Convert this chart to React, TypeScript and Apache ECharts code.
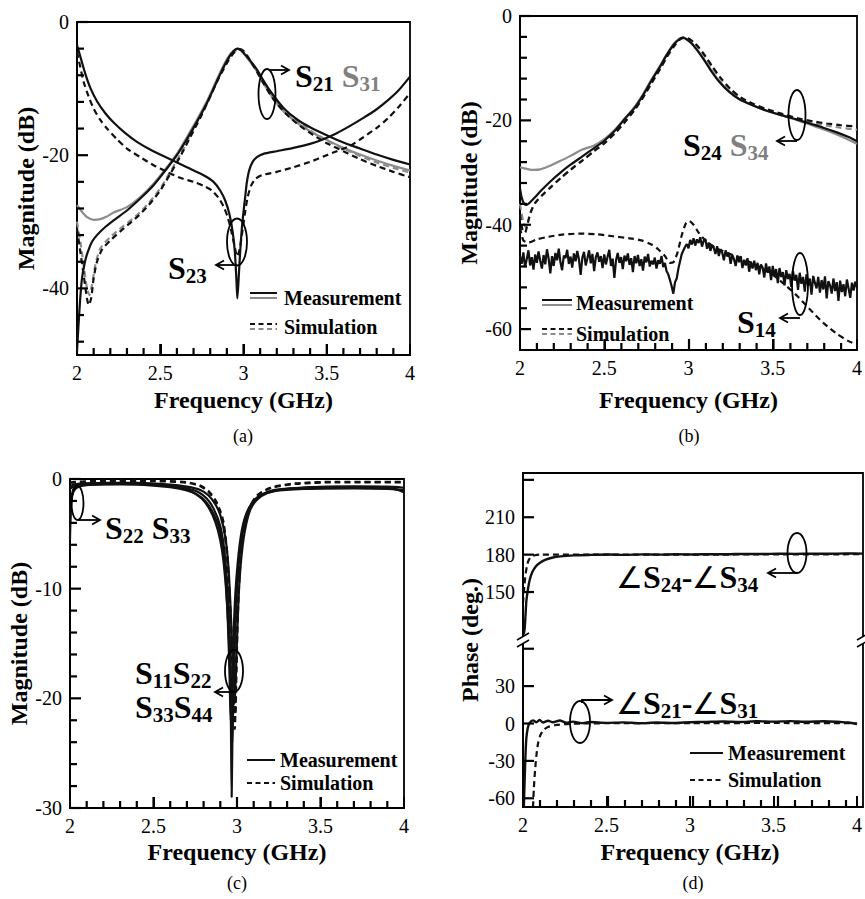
import React, { useEffect, useRef } from 'react';
import * as echarts from 'echarts';

const FONT = "'Liberation Serif', 'Times New Roman', serif";
const BLACK = '#111111';
const GRAY = '#8c8c8c';

// ---------- axis ranges & tick values ----------
const freqRange = [2, 4];
const freqMajor = [2.5, 3, 3.5];
const freqMinor = [2.1, 2.2, 2.3, 2.4, 2.6, 2.7, 2.8, 2.9, 3.1, 3.2, 3.3, 3.4, 3.6, 3.7, 3.8, 3.9];
const aRange = [-50, 0];
const aYLabels = [0, -20, -40];
const aYMinor = [-4, -8, -12, -16, -24, -28, -32, -36, -44, -48];
const bRange = [-64, 0];
const bYLabels = [0, -20, -40, -60];
const bYMinor = [-4, -8, -12, -16, -24, -28, -32, -36, -44, -48, -52, -56];
const cRange = [-30, 0];
const cYLabels = [0, -10, -20, -30];
const cYMinor = [-2, -4, -6, -8, -12, -14, -16, -18, -22, -24, -26, -28];
const dUpRange = [111.5, 245.5];
const dUpLabels = [150, 180, 210];
const dUpTicks = [150, 180, 210, 240];
const dLowRange = [-67, 67];
const dLowLabels = [-60, -30, 0, 30];
const dLowTicks = [-60, -30, 0, 30, 60];

// ---------- (a) ----------
const aS21Meas: [number, number][] = [[2.0,-49.5],[2.008,-46],[2.018,-42],[2.03,-38.5],[2.048,-36],[2.065,-34.5],[2.09,-33],[2.12,-32],[2.16,-31],[2.22,-29.8],[2.3,-28.3],[2.38,-26.5],[2.46,-24.5],[2.54,-22],[2.6,-20],[2.66,-17.6],[2.72,-15],[2.78,-12.2],[2.83,-9.5],[2.87,-7.3],[2.91,-5.4],[2.94,-4.4],[2.965,-4.0],[2.985,-4.2],[3.01,-4.9],[3.04,-5.8],[3.08,-7.1],[3.12,-8.8],[3.17,-10.7],[3.24,-12.9],[3.32,-14.6],[3.4,-15.8],[3.5,-17.0],[3.6,-18.1],[3.7,-19.0],[3.8,-19.9],[3.9,-20.7],[4.0,-21.4]];
const aS31Meas: [number, number][] = [[2.0,-27.5],[2.03,-28.5],[2.06,-29.3],[2.1,-29.7],[2.14,-29.6],[2.18,-29.2],[2.22,-28.6],[2.3,-27.8],[2.38,-26.3],[2.46,-24.3],[2.54,-21.8],[2.6,-19.8],[2.66,-17.3],[2.72,-14.7],[2.78,-11.9],[2.83,-9.2],[2.87,-7.0],[2.91,-5.2],[2.94,-4.3],[2.965,-4.0],[2.985,-4.3],[3.01,-5.0],[3.04,-6.0],[3.08,-7.4],[3.12,-9.2],[3.17,-11.2],[3.24,-13.4],[3.32,-15.1],[3.4,-16.4],[3.5,-17.7],[3.6,-18.9],[3.7,-19.9],[3.8,-20.8],[3.9,-21.6],[4.0,-22.3]];
const aS23Meas: [number, number][] = [[2.0,-3.5],[2.02,-5.2],[2.05,-7.8],[2.08,-9.9],[2.12,-11.9],[2.17,-13.7],[2.22,-15.1],[2.29,-16.7],[2.36,-18.0],[2.45,-19.3],[2.56,-20.6],[2.66,-21.8],[2.76,-23.0],[2.82,-24.0],[2.86,-25.3],[2.89,-26.8],[2.915,-28.8],[2.935,-31.5],[2.948,-34.5],[2.958,-39],[2.963,-41.5],[2.972,-38],[2.98,-34.5],[2.99,-31],[3.0,-28.5],[3.01,-26.3],[3.02,-24.1],[3.035,-22.2],[3.055,-21.0],[3.08,-20.3],[3.12,-19.8],[3.2,-19.4],[3.3,-18.9],[3.4,-18.3],[3.48,-17.6],[3.56,-16.7],[3.64,-15.6],[3.72,-14.4],[3.8,-13.1],[3.87,-11.7],[3.93,-10.3],[4.0,-8.2]];
const aS21Sim: [number, number][] = [[2.0,-31],[2.02,-34.5],[2.04,-38],[2.06,-41.5],[2.07,-42.5],[2.085,-41.5],[2.1,-38.5],[2.12,-36],[2.15,-34.2],[2.2,-32.8],[2.28,-31],[2.36,-29.3],[2.43,-27.5],[2.5,-25.3],[2.56,-22.8],[2.62,-20.2],[2.68,-17.3],[2.74,-14.4],[2.8,-11.2],[2.85,-8.5],[2.9,-6.2],[2.94,-4.7],[2.975,-4.1],[3.0,-4.4],[3.03,-5.4],[3.07,-7.0],[3.12,-9.2],[3.18,-11.6],[3.26,-13.9],[3.34,-15.6],[3.42,-17.0],[3.5,-18.2],[3.6,-19.4],[3.7,-20.6],[3.8,-21.6],[3.9,-22.5],[4.0,-23.3]];
const aS31Sim: [number, number][] = [[2.0,-30],[2.02,-33],[2.04,-36.5],[2.06,-40],[2.075,-41],[2.09,-39.5],[2.11,-36.5],[2.14,-34],[2.2,-32.3],[2.28,-30.6],[2.36,-29],[2.43,-27.2],[2.5,-25],[2.56,-22.5],[2.62,-19.9],[2.68,-17],[2.74,-14.1],[2.8,-11],[2.85,-8.3],[2.9,-6.0],[2.94,-4.6],[2.975,-4.0],[3.0,-4.3],[3.03,-5.3],[3.07,-6.9],[3.12,-9.0],[3.18,-11.3],[3.26,-13.5],[3.34,-15.2],[3.42,-16.6],[3.5,-17.8],[3.6,-19.0],[3.7,-20.1],[3.8,-21.1],[3.9,-21.9],[4.0,-22.6]];
const aS23Sim: [number, number][] = [[2.0,-4.5],[2.02,-6.8],[2.04,-9.0],[2.07,-11.2],[2.1,-13],[2.14,-14.7],[2.18,-16],[2.24,-17.6],[2.3,-19],[2.38,-20.3],[2.46,-21.5],[2.54,-22.5],[2.62,-23.4],[2.7,-24.0],[2.76,-24.6],[2.81,-25.3],[2.85,-26.4],[2.88,-27.7],[2.905,-29.3],[2.925,-31.2],[2.945,-33.5],[2.962,-35.2],[2.978,-34],[2.99,-32],[3.0,-30.3],[3.01,-28.5],[3.025,-26.3],[3.045,-24.6],[3.07,-23.6],[3.11,-23.0],[3.2,-22.5],[3.3,-21.8],[3.4,-21.0],[3.48,-20.2],[3.56,-19.4],[3.64,-18.6],[3.72,-17.3],[3.8,-15.9],[3.87,-14.4],[3.93,-12.8],[4.0,-10.7]];

// ---------- (b) ----------
const bS24Meas: [number, number][] = [[2.0,-33],[2.01,-34.8],[2.025,-36],[2.04,-36.2],[2.06,-35.7],[2.09,-34.7],[2.13,-33.3],[2.18,-31.7],[2.24,-30],[2.3,-28.5],[2.37,-26.9],[2.44,-25.3],[2.5,-23.9],[2.56,-22.1],[2.62,-19.8],[2.68,-17.6],[2.73,-15.2],[2.78,-12.4],[2.83,-9.8],[2.87,-7.5],[2.91,-5.6],[2.94,-4.6],[2.965,-4.2],[2.99,-4.5],[3.02,-5.3],[3.05,-6.5],[3.09,-8.3],[3.13,-10.3],[3.18,-12.5],[3.24,-14.5],[3.3,-15.9],[3.38,-17.1],[3.46,-18.1],[3.55,-19.0],[3.64,-19.8],[3.72,-20.6],[3.8,-21.4],[3.88,-22.3],[3.95,-23.2],[4.0,-24.0]];
const bS34Meas: [number, number][] = [[2.0,-29],[2.04,-29.3],[2.08,-29.5],[2.12,-29.4],[2.17,-28.8],[2.23,-27.9],[2.3,-26.8],[2.37,-25.6],[2.44,-24.8],[2.5,-23.6],[2.56,-21.9],[2.62,-19.7],[2.68,-17.4],[2.73,-15.0],[2.78,-12.2],[2.83,-9.6],[2.87,-7.4],[2.91,-5.4],[2.94,-4.5],[2.965,-4.1],[2.99,-4.4],[3.02,-5.2],[3.05,-6.4],[3.09,-8.2],[3.13,-10.2],[3.18,-12.4],[3.24,-14.4],[3.3,-15.9],[3.38,-17.1],[3.46,-18.1],[3.55,-19.0],[3.64,-19.9],[3.72,-20.8],[3.8,-21.7],[3.88,-22.7],[3.95,-23.7],[4.0,-24.5]];
const bS24Sim: [number, number][] = [[2.0,-38],[2.015,-41],[2.03,-41.5],[2.045,-39.8],[2.065,-37.5],[2.09,-35.8],[2.13,-34.4],[2.18,-32.9],[2.24,-31.1],[2.3,-29.5],[2.37,-27.7],[2.44,-25.9],[2.5,-24.4],[2.56,-22.6],[2.62,-20.4],[2.68,-18.0],[2.73,-15.6],[2.78,-12.9],[2.83,-10.2],[2.87,-7.9],[2.91,-5.9],[2.945,-4.6],[2.975,-4.1],[3.0,-4.3],[3.03,-5.0],[3.06,-6.0],[3.1,-7.7],[3.14,-9.6],[3.19,-11.8],[3.25,-14.0],[3.31,-15.6],[3.39,-16.9],[3.47,-17.9],[3.56,-18.8],[3.65,-19.6],[3.74,-20.2],[3.82,-20.6],[3.9,-20.9],[4.0,-21.2]];
const bS34Sim: [number, number][] = [[2.0,-36],[2.02,-39.5],[2.035,-40.5],[2.05,-39],[2.07,-37],[2.1,-35.4],[2.14,-34.0],[2.19,-32.5],[2.25,-30.8],[2.31,-29.1],[2.38,-27.4],[2.45,-25.6],[2.51,-24.1],[2.57,-22.2],[2.63,-20.0],[2.69,-17.5],[2.74,-15.1],[2.79,-12.4],[2.84,-9.7],[2.88,-7.5],[2.92,-5.6],[2.95,-4.5],[2.98,-4.1],[3.005,-4.4],[3.035,-5.2],[3.065,-6.3],[3.1,-7.9],[3.14,-9.9],[3.19,-12.1],[3.25,-14.2],[3.31,-15.8],[3.39,-17.1],[3.47,-18.1],[3.56,-19.0],[3.65,-19.8],[3.74,-20.5],[3.82,-21.0],[3.9,-21.4],[4.0,-21.8]];
const bS14Sim: [number, number][] = [[2.0,-40.5],[2.02,-43],[2.05,-43.4],[2.1,-42.8],[2.17,-42.3],[2.25,-41.9],[2.35,-41.7],[2.45,-41.8],[2.55,-42.2],[2.65,-42.6],[2.72,-43.0],[2.78,-43.8],[2.82,-44.7],[2.86,-46],[2.89,-47.3],[2.91,-47.2],[2.935,-45.3],[2.96,-42],[2.985,-39.7],[3.005,-39.3],[3.03,-40],[3.06,-41.5],[3.1,-43],[3.15,-44.2],[3.2,-45],[3.3,-46.3],[3.4,-47.7],[3.5,-49.6],[3.58,-51.7],[3.65,-53.8],[3.72,-56.2],[3.8,-58.8],[3.88,-60.9],[3.95,-62.3],[4.0,-63]];
// measured S14: sampled every 0.01 GHz from 2.00 to 4.00
const bS14MeasStart = 2.0;
const bS14MeasStep = 0.01;
const bS14MeasVal: number[] = [
  -46.0,-47.5,-45.3,-48.1,-46.6,-44.9,-47.8,-46.2,-48.6,-45.7,
  -47.3,-45.1,-46.9,-48.4,-45.8,-47.6,-44.7,-46.5,-49.3,-46.0,
  -47.9,-45.4,-46.8,-44.6,-47.2,-48.7,-45.9,-46.4,-44.8,-47.5,
  -46.1,-48.2,-45.5,-47.0,-45.0,-46.7,-49.6,-46.3,-45.2,-47.8,
  -46.4,-44.9,-47.4,-45.6,-48.9,-46.2,-45.3,-47.1,-46.0,-48.3,
  -45.7,-47.6,-46.1,-44.8,-47.9,-46.5,-50.2,-46.8,-45.4,-47.3,
  -46.2,-48.5,-45.9,-47.0,-45.5,-47.7,-46.4,-49.1,-46.0,-47.4,
  -45.8,-47.9,-46.6,-48.8,-46.1,-47.2,-45.6,-48.0,-46.9,-47.6,
  -46.3,-48.4,-46.8,-47.5,-46.0,-48.1,-47.3,-48.9,-49.5,-50.6,
  -51.8,-53.2,-51.0,-50.3,-48.4,-47.0,-45.6,-44.9,-44.2,-43.7,
  -44.5,-42.9,-43.8,-42.6,-44.0,-42.8,-43.5,-42.4,-44.2,-43.1,
  -42.7,-44.6,-43.4,-45.0,-43.9,-44.4,-45.6,-44.1,-46.0,-44.7,
  -45.3,-46.8,-44.9,-46.1,-45.4,-47.5,-45.8,-46.6,-47.9,-45.9,
  -47.2,-46.0,-48.3,-46.7,-47.8,-46.4,-49.0,-47.1,-48.4,-46.9,
  -48.7,-47.3,-49.5,-47.6,-48.2,-50.1,-47.4,-49.2,-48.0,-50.6,
  -47.9,-49.8,-48.5,-51.2,-48.3,-50.0,-49.1,-51.6,-48.7,-50.4,
  -49.4,-51.9,-48.9,-50.7,-49.6,-52.5,-49.2,-51.3,-50.0,-52.8,
  -49.5,-51.7,-50.3,-53.4,-49.8,-51.1,-52.2,-50.0,-53.0,-50.6,
  -52.4,-49.9,-54.1,-50.8,-51.6,-53.2,-50.3,-52.7,-51.0,-54.6,
  -50.7,-52.9,-51.4,-53.7,-50.5,-52.2,-54.0,-51.1,-52.6,-50.9,
  -52.0,
];

// ---------- (c) ----------
const cS11Meas: [number, number][] = [[2.0,-0.7],[2.02,-0.5],[2.1,-0.4],[2.3,-0.4],[2.5,-0.5],[2.6,-0.65],[2.68,-0.9],[2.74,-1.25],[2.79,-1.8],[2.83,-2.6],[2.87,-3.9],[2.9,-5.6],[2.92,-7.6],[2.94,-11.2],[2.955,-16],[2.963,-21.5],[2.968,-29],[2.973,-23],[2.98,-17],[2.99,-12.5],[3.0,-9.5],[3.015,-6.8],[3.035,-4.6],[3.06,-3.1],[3.1,-2.0],[3.15,-1.4],[3.22,-1.0],[3.35,-0.85],[3.6,-0.75],[3.85,-0.8],[3.95,-0.95],[4.0,-1.2]];
const cS22Meas: [number, number][] = [[2.0,-5.5],[2.004,-3.2],[2.01,-1.9],[2.02,-1.2],[2.04,-0.8],[2.1,-0.55],[2.3,-0.5],[2.5,-0.6],[2.6,-0.75],[2.7,-1.05],[2.76,-1.4],[2.81,-2.0],[2.85,-2.9],[2.89,-4.3],[2.915,-6.3],[2.93,-8.6],[2.945,-13],[2.955,-17.5],[2.962,-22],[2.97,-19],[2.98,-14],[2.99,-10.5],[3.005,-7.5],[3.025,-5],[3.05,-3.4],[3.09,-2.2],[3.14,-1.5],[3.22,-1.1],[3.4,-0.9],[3.7,-0.85],[3.9,-0.9],[4.0,-1.0]];
const cS33Meas: [number, number][] = [[2.0,-4.0],[2.005,-2.4],[2.012,-1.4],[2.025,-0.8],[2.06,-0.5],[2.2,-0.35],[2.4,-0.35],[2.6,-0.5],[2.7,-0.7],[2.78,-1.0],[2.83,-1.5],[2.87,-2.3],[2.9,-3.3],[2.93,-5.3],[2.95,-8.3],[2.965,-13],[2.978,-18.5],[2.986,-20.5],[2.995,-17],[3.005,-12.5],[3.015,-9.3],[3.03,-6.6],[3.05,-4.5],[3.08,-2.8],[3.12,-1.9],[3.18,-1.3],[3.3,-0.9],[3.6,-0.7],[3.9,-0.7],[4.0,-0.8]];
const cS44Meas: [number, number][] = [[2.0,-0.9],[2.03,-0.6],[2.2,-0.45],[2.4,-0.45],[2.6,-0.6],[2.7,-0.85],[2.77,-1.2],[2.82,-1.8],[2.86,-2.7],[2.9,-4.3],[2.925,-6.6],[2.945,-10.5],[2.958,-15],[2.966,-20],[2.972,-24],[2.978,-20],[2.988,-14.5],[2.998,-10.5],[3.01,-7.8],[3.03,-5.2],[3.055,-3.5],[3.09,-2.3],[3.14,-1.5],[3.22,-1.05],[3.4,-0.8],[3.7,-0.7],[3.9,-0.8],[4.0,-1.1]];
const cS11Sim: [number, number][] = [[2.0,-0.3],[2.2,-0.15],[2.5,-0.15],[2.7,-0.3],[2.78,-0.6],[2.83,-1.1],[2.87,-1.9],[2.9,-2.9],[2.92,-4.0],[2.94,-6.5],[2.955,-10.3],[2.967,-14],[2.978,-18.5],[2.987,-22.8],[2.994,-18],[3.0,-13],[3.01,-9.5],[3.025,-6.3],[3.045,-4.2],[3.075,-2.6],[3.12,-1.5],[3.2,-0.8],[3.35,-0.4],[3.6,-0.25],[4.0,-0.25]];
const cS22Sim: [number, number][] = [[2.0,-0.35],[2.2,-0.2],[2.5,-0.2],[2.7,-0.35],[2.78,-0.65],[2.83,-1.2],[2.87,-2.0],[2.9,-3.1],[2.92,-4.3],[2.94,-7.0],[2.955,-11],[2.968,-15],[2.98,-19.5],[2.99,-21.5],[2.997,-17.5],[3.005,-12.5],[3.015,-9],[3.03,-6.0],[3.05,-4.0],[3.08,-2.5],[3.13,-1.4],[3.21,-0.8],[3.35,-0.45],[3.6,-0.3],[4.0,-0.3]];

// ---------- (d) ----------
const dUpMeas: [number, number][] = [[2.005,116],[2.01,121],[2.015,132],[2.02,143],[2.03,153],[2.04,160],[2.055,166],[2.075,170.5],[2.1,173.5],[2.13,175.8],[2.17,177.5],[2.22,178.6],[2.3,179.4],[2.4,179.8],[2.5,180.1],[2.6,179.8],[2.7,180.2],[2.8,180.0],[2.9,180.3],[3.0,180.1],[3.1,180.4],[3.2,180.3],[3.3,180.6],[3.4,180.5],[3.5,180.7],[3.6,180.6],[3.7,180.8],[3.8,180.7],[3.9,180.9],[4.0,180.8]];
const dUpSim: [number, number][] = [[2.0,141],[2.008,155],[2.016,165],[2.025,172],[2.035,176],[2.05,178.5],[2.07,179.5],[2.1,180],[2.5,180],[3.0,180],[3.5,180.2],[4.0,180.3]];
const dLowMeas: [number, number][] = [[2.005,-67],[2.01,-45],[2.015,-25],[2.02,-12],[2.028,-4],[2.04,0.5],[2.06,2.5],[2.08,1],[2.1,2.8],[2.12,0.8],[2.15,2.2],[2.18,1.0],[2.22,2.4],[2.26,0.6],[2.3,1.5],[2.35,0.3],[2.4,1.2],[2.5,0.5],[2.6,0.9],[2.7,0.2],[2.8,0.8],[2.9,0.4],[3.0,1.0],[3.1,1.3],[3.2,1.6],[3.3,1.2],[3.4,1.8],[3.5,1.5],[3.6,1.9],[3.7,1.4],[3.8,1.8],[3.9,1.2],[3.95,0.8],[4.0,-0.5]];
const dLowSim: [number, number][] = [[2.06,-67],[2.065,-52],[2.072,-38],[2.08,-26],[2.09,-16],[2.105,-9],[2.125,-5],[2.15,-2.8],[2.19,-1.4],[2.25,-0.5],[2.35,0],[2.5,0.2],[3.0,0.3],[3.5,0.4],[4.0,0.2]];

// ---------- layout ----------
type Box = { left: number; top: number; width: number; height: number };
const boxA: Box = { left: 77, top: 22, width: 333, height: 333 };
const boxB: Box = { left: 520, top: 16, width: 338, height: 334 };
const boxC: Box = { left: 70, top: 479, width: 334, height: 329 };
const boxDUp: Box = { left: 523, top: 473, width: 340, height: 167 };
const boxDLow: Box = { left: 523, top: 640, width: 340, height: 167 };

const AXLINE = { show: true, onZero: false, lineStyle: { color: '#000', width: 1.8 } };

function line(data: any[], xi: number, yi: number, color: string, dashed: boolean, smooth: number | boolean = 0.25, width = 2.2, z = 3) {
  return {
    type: 'line', data, xAxisIndex: xi, yAxisIndex: yi, symbol: 'none', showSymbol: false,
    smooth, silent: true, z,
    lineStyle: { color, width, type: dashed ? [6, 4] : 'solid' },
  };
}

function xAx(gridIndex: number, nameGap: number) {
  return {
    type: 'value', gridIndex, min: freqRange[0], max: freqRange[1], interval: 0.5,
    name: 'Frequency (GHz)', nameLocation: 'middle', nameGap,
    nameTextStyle: { fontFamily: FONT, fontSize: 24, fontWeight: 'bold', color: '#000' },
    axisLine: AXLINE,
    axisTick: { show: true, inside: true, length: 11, lineStyle: { color: '#000', width: 2 } },
    axisLabel: { fontFamily: FONT, fontSize: 20, color: '#000', margin: 8, showMinLabel: true, showMaxLabel: true },
    splitLine: { show: false },
  };
}

function yAx(gridIndex: number, range: number[], labels: number[], name: string, nameGap: number) {
  return {
    type: 'value', gridIndex, min: range[0], max: range[1], name, nameLocation: 'middle', nameGap,
    nameTextStyle: { fontFamily: FONT, fontSize: 24, fontWeight: 'bold', color: '#000' },
    axisLine: AXLINE,
    axisTick: { show: false },
    axisLabel: { fontFamily: FONT, fontSize: 20, color: '#000', margin: 8, customValues: labels },
    splitLine: { show: false },
  };
}

// linear scale of a panel (same mapping as the grid's value axes)
function sx(b: Box, f: number) { return b.left + ((f - freqRange[0]) / (freqRange[1] - freqRange[0])) * b.width; }
function sy(b: Box, r: number[], v: number) { return b.top + ((r[1] - v) / (r[1] - r[0])) * b.height; }

function tickEls(): any[] {
  const out: any[] = [];
  const t = (x1: number, y1: number, x2: number, y2: number) =>
    out.push({ type: 'line', z: 120, shape: { x1, y1, x2, y2 }, style: { stroke: '#000', lineWidth: 2.2 } });
  const xT = (b: Box) => {
    const yb = b.top + b.height;
    freqMajor.forEach((f) => t(sx(b, f), yb, sx(b, f), yb - 11));
    freqMinor.forEach((f) => t(sx(b, f), yb, sx(b, f), yb - 7));
  };
  const yT = (b: Box, r: number[], major: number[], minor: number[]) => {
    major.forEach((v) => t(b.left, sy(b, r, v), b.left + 11, sy(b, r, v)));
    minor.forEach((v) => t(b.left, sy(b, r, v), b.left + 7, sy(b, r, v)));
  };
  xT(boxA); xT(boxB); xT(boxC); xT(boxDLow);
  yT(boxA, aRange, aYLabels, aYMinor);
  yT(boxB, bRange, bYLabels, bYMinor);
  yT(boxC, cRange, cYLabels, cYMinor);
  yT(boxDUp, dUpRange, dUpTicks, []);
  yT(boxDLow, dLowRange, dLowTicks, []);
  return out;
}

const rich: any = {
  s: { fontFamily: FONT, fontSize: 32, fontWeight: 'bold', fill: '#000' },
  b: { fontFamily: FONT, fontSize: 21, fontWeight: 'bold', fill: '#000', padding: [16, 0, 0, 0] },
  gs: { fontFamily: FONT, fontSize: 32, fontWeight: 'bold', fill: '#808080' },
  gb: { fontFamily: FONT, fontSize: 21, fontWeight: 'bold', fill: '#808080', padding: [16, 0, 0, 0] },
  ang: { fontFamily: FONT, fontSize: 30, fill: '#000' },
};

function label(x: number, y: number, text: string) {
  return { type: 'text', x, y, z: 110, style: { text, rich, verticalAlign: 'middle', align: 'left' } };
}
function ell(cx: number, cy: number, rx: number, ry: number) {
  return { type: 'ellipse', z: 110, shape: { cx, cy, rx, ry }, style: { fill: 'none', stroke: '#000', lineWidth: 1.8 } };
}
function arrow(points: number[][], dir: 'left' | 'right') {
  const [x, y] = points[points.length - 1];
  const d = dir === 'right' ? -8 : 8;
  return [
    { type: 'polyline', z: 110, shape: { points }, style: { stroke: '#000', lineWidth: 1.8, fill: 'none' } },
    { type: 'polyline', z: 110, shape: { points: [[x + d, y - 4.5], [x, y], [x + d, y + 4.5]] }, style: { stroke: '#000', lineWidth: 1.8, fill: 'none' } },
  ];
}
function seg(x1: number, y1: number, x2: number, y2: number, color: string, dashed: boolean) {
  return { type: 'line', z: 110, shape: { x1, y1, x2, y2 }, style: { stroke: color, lineWidth: 2, lineDash: dashed ? [5, 3.5] : null } };
}
function txt(x: number, y: number, text: string, size: number, bold: boolean, align = 'left') {
  return { type: 'text', x, y, z: 110, style: { text, fontFamily: FONT, fontSize: size, fontWeight: bold ? 'bold' : 'normal', fill: '#000', verticalAlign: 'middle', align } };
}

export default function App() {
  const ref = useRef<HTMLDivElement>(null);
  useEffect(() => {
    document.body.style.margin = '0';
    const chart = echarts.init(ref.current!, null, { renderer: 'svg' });
    const gridBox = { show: true, borderColor: '#000', borderWidth: 1.8, backgroundColor: 'transparent' };
    const s14 = bS14MeasVal.map((v, i) => [bS14MeasStart + i * bS14MeasStep, v]);
    const graphics: any[] = [
      // frame of (d) and axis breaks
      { type: 'rect', z: 100, shape: { x: boxDUp.left, y: boxDUp.top, width: boxDUp.width, height: boxDUp.height + boxDLow.height }, style: { fill: 'none', stroke: '#000', lineWidth: 1.8 } },
      { type: 'rect', z: 101, shape: { x: 519, y: 637, width: 8, height: 7 }, style: { fill: '#fff' } },
      { type: 'rect', z: 101, shape: { x: 859, y: 637, width: 8, height: 7 }, style: { fill: '#fff' } },
      { type: 'line', z: 102, shape: { x1: 517, y1: 640, x2: 529, y2: 633 }, style: { stroke: '#000', lineWidth: 1.5 } },
      { type: 'line', z: 102, shape: { x1: 517, y1: 647, x2: 529, y2: 640 }, style: { stroke: '#000', lineWidth: 1.5 } },
      { type: 'line', z: 102, shape: { x1: 857, y1: 640, x2: 869, y2: 633 }, style: { stroke: '#000', lineWidth: 1.5 } },
      { type: 'line', z: 102, shape: { x1: 857, y1: 647, x2: 869, y2: 640 }, style: { stroke: '#000', lineWidth: 1.5 } },
      { type: 'text', z: 110, x: 470, y: 640, rotation: Math.PI / 2, style: { text: 'Phase (deg.)', fontFamily: FONT, fontSize: 24, fontWeight: 'bold', fill: '#000', align: 'center', verticalAlign: 'middle' } },
      // captions
      txt(243, 436, '(a)', 18, false, 'center'),
      txt(689, 436, '(b)', 18, false, 'center'),
      txt(237, 883, '(c)', 18, false, 'center'),
      txt(693, 883, '(d)', 18, false, 'center'),
      // (a) annotations
      ell(267, 94, 8.5, 25),
      ...arrow([[270, 70], [289, 70]], 'right'),
      label(295, 76, '{s|S}{b|21}{gs| S}{gb|31}'),
      ell(237, 242, 10, 23.5),
      ...arrow([[237, 265], [216, 265]], 'left'),
      label(168, 268, '{s|S}{b|23}'),
      seg(250, 293, 277, 293, BLACK, false),
      seg(250, 298, 277, 298, GRAY, false),
      txt(284, 298, 'Measurement', 20, true),
      seg(250, 324, 277, 324, BLACK, true),
      seg(250, 329, 277, 329, GRAY, true),
      txt(284, 327, 'Simulation', 20, true),
      // (b) annotations
      ell(797, 115, 8.5, 25),
      ...arrow([[797, 141], [777, 141]], 'left'),
      label(683, 145, '{s|S}{b|24}{gs| S}{gb|34}'),
      ell(800, 284, 8, 31),
      ...arrow([[800, 318], [780, 318]], 'left'),
      label(737, 322, '{s|S}{b|14}'),
      seg(542, 300, 572, 300, BLACK, false),
      seg(542, 305, 572, 305, GRAY, false),
      txt(576, 303, 'Measurement', 20, true),
      seg(542, 329, 572, 329, BLACK, true),
      seg(542, 334, 572, 334, GRAY, true),
      txt(576, 334, 'Simulation', 20, true),
      // (c) annotations
      ell(77.5, 503, 6, 17),
      ...arrow([[78, 520], [100, 520]], 'right'),
      label(105, 528, '{s|S}{b|22}{s| S}{b|33}'),
      ell(234, 671, 9, 21),
      ...arrow([[232, 692], [215, 692]], 'left'),
      label(135, 673, '{s|S}{b|11}{s|S}{b|22}'),
      label(135, 707, '{s|S}{b|33}{s|S}{b|44}'),
      seg(247, 760, 275, 760, BLACK, false),
      txt(280, 760, 'Measurement', 20, true),
      seg(247, 783, 275, 783, BLACK, true),
      txt(280, 783, 'Simulation', 20, true),
      // (d) annotations
      ell(797, 553, 9.5, 20),
      ...arrow([[797, 573], [768, 573]], 'left'),
      label(616, 577, '{ang|∠}{s|S}{b|24}{s|-}{ang|∠}{s|S}{b|34}'),
      ell(580, 722, 10, 21),
      ...arrow([[582, 703], [582, 700], [612, 700]], 'right'),
      label(616, 703, '{ang|∠}{s|S}{b|21}{s|-}{ang|∠}{s|S}{b|31}'),
      seg(690, 753, 723, 753, BLACK, false),
      txt(728, 753, 'Measurement', 20, true),
      seg(690, 780, 723, 780, BLACK, true),
      txt(728, 780, 'Simulation', 20, true),
      // inward ticks
      ...tickEls(),
    ];
    const option: any = {
      animation: false,
      backgroundColor: '#fff',
      grid: [
        { ...boxA, ...gridBox },
        { ...boxB, ...gridBox },
        { ...boxC, ...gridBox },
        { ...boxDUp, show: false },
        { ...boxDLow, show: false },
      ],
      xAxis: [
        xAx(0, 33), xAx(1, 38), xAx(2, 32),
        { type: 'value', gridIndex: 3, min: freqRange[0], max: freqRange[1], show: false },
        xAx(4, 33),
      ],
      yAxis: [
        yAx(0, aRange, aYLabels, 'Magnitude (dB)', 37),
        yAx(1, bRange, bYLabels, 'Magnitude (dB)', 36),
        yAx(2, cRange, cYLabels, 'Magnitude (dB)', 36),
        yAx(3, dUpRange, dUpLabels, '', 0),
        yAx(4, dLowRange, dLowLabels, '', 0),
      ],
      series: [
        // (a)
        line(aS31Meas, 0, 0, GRAY, false, 0.25, 2.2, 2),
        line(aS31Sim, 0, 0, GRAY, true, 0.25, 2.2, 2),
        line(aS21Sim, 0, 0, BLACK, true),
        line(aS23Sim, 0, 0, BLACK, true),
        line(aS21Meas, 0, 0, BLACK, false),
        line(aS23Meas, 0, 0, BLACK, false),
        // (b)
        line(bS34Meas, 1, 1, GRAY, false, 0.25, 2.2, 2),
        line(bS34Sim, 1, 1, GRAY, true, 0.25, 2.2, 2),
        line(bS24Sim, 1, 1, BLACK, true),
        line(bS14Sim, 1, 1, BLACK, true),
        line(bS24Meas, 1, 1, BLACK, false),
        line(s14, 1, 1, BLACK, false, false, 2.2),
        // (c)
        line(cS11Sim, 2, 2, BLACK, true, 0.25, 2.2, 4),
        line(cS22Sim, 2, 2, BLACK, true, 0.25, 2.2, 4),
        line(cS11Meas, 2, 2, BLACK, false),
        line(cS22Meas, 2, 2, BLACK, false),
        line(cS33Meas, 2, 2, BLACK, false),
        line(cS44Meas, 2, 2, BLACK, false),
        // (d)
        line(dUpSim, 3, 3, BLACK, true),
        line(dUpMeas, 3, 3, BLACK, false, 0.25, 2.4),
        line(dLowSim, 4, 4, BLACK, true),
        line(dLowMeas, 4, 4, BLACK, false, 0.25, 2.4),
      ],
      graphic: graphics,
    };
    chart.setOption(option);
    return () => chart.dispose();
  }, []);
  return <div ref={ref} style={{ width: 865, height: 899 }} />;
}
